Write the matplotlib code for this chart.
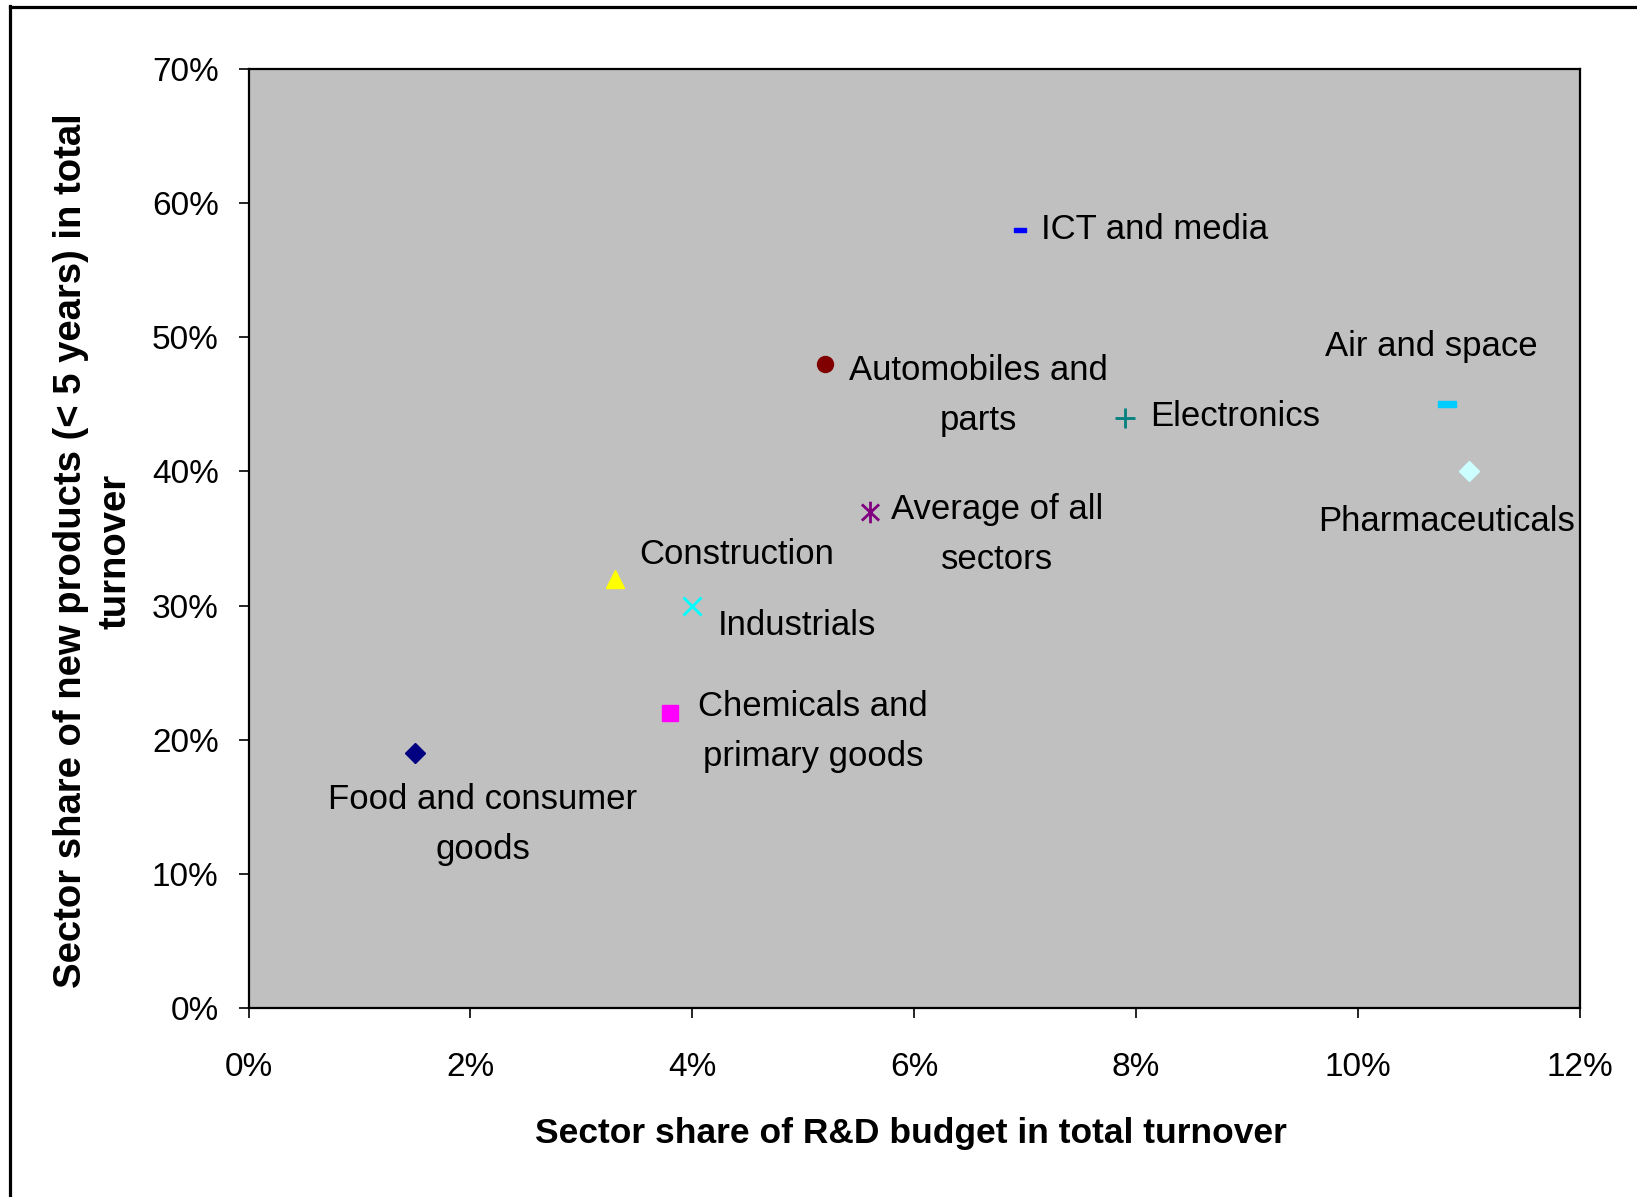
import matplotlib
matplotlib.use("Agg")
import matplotlib.pyplot as plt
from matplotlib.path import Path
from matplotlib.lines import Line2D
from matplotlib.ticker import FuncFormatter

plt.rcParams['font.family'] = ['Liberation Sans', 'DejaVu Sans']

# ---- data ----
sectors = ["Food and consumer\ngoods", "Chemicals and\nprimary goods", "Construction",
           "Industrials", "Automobiles and\nparts", "Average of all\nsectors",
           "ICT and media", "Electronics", "Air and space", "Pharmaceuticals"]
rd_share = [0.015, 0.038, 0.033, 0.040, 0.052, 0.056, 0.0695, 0.079, 0.108, 0.110]
new_prod_share = [0.19, 0.22, 0.32, 0.30, 0.48, 0.37, 0.58, 0.44, 0.45, 0.40]
x_ticks = [0, 0.02, 0.04, 0.06, 0.08, 0.10, 0.12]
y_ticks = [0, 0.1, 0.2, 0.3, 0.4, 0.5, 0.6, 0.7]

# ---- styles ----
def rect_marker(w, h):
    return Path([(-w, -h), (w, -h), (w, h), (-w, h), (-w, -h)],
                [Path.MOVETO, Path.LINETO, Path.LINETO, Path.LINETO, Path.CLOSEPOLY])

asterisk = Path([(0, -1), (0, 1), (-0.8, -0.75), (0.8, 0.75), (-0.8, 0.75), (0.8, -0.75)],
                [Path.MOVETO, Path.LINETO, Path.MOVETO, Path.LINETO, Path.MOVETO, Path.LINETO])

styles = [
    dict(marker='D', ms=9.7, color='#000080'),
    dict(marker='s', ms=11, color='#FF00FF'),
    dict(marker='^', ms=13, color='#FFFF00'),
    dict(marker='x', ms=12.5, color='#00FFFF', mew=2),
    dict(marker='o', ms=11.5, color='#800000'),
    dict(marker=asterisk, ms=15.5, color='#800080', mew=2),
    dict(marker=rect_marker(1, 0.36), ms=8, color='#0000FF'),
    dict(marker='+', ms=14, color='#008080', mew=2),
    dict(marker=rect_marker(1, 0.3), ms=13.5, color='#00CCFF'),
    dict(marker='D', ms=9.7, color='#CCFFFF'),
]
# label offsets in pixels (center of text block relative to marker)
offsets = [(68, -71, 'center'), (143, -19, 'center'), (122, 24, 'center'),
           (105, -20, 'center'), (153, -31, 'center'), (127, -23, 'center'),
           (21, 0, 'left'), (25, 1, 'left'), (-16, 58, 'center'), (-22, -50, 'center')]

W, H = 1637, 1197
fig = plt.figure(figsize=(W / 100, H / 100), dpi=100)
ax = fig.add_axes([248.5 / W, 1 - 1008 / H, (1580 - 248.5) / W, (1008 - 69) / H])
ax.set_facecolor('#C0C0C0')

for x, y, lab, st, off in zip(rd_share, new_prod_share, sectors, styles, offsets):
    ax.plot([x], [y], linestyle='none', marker=st['marker'], markersize=st['ms'],
            color=st['color'], markeredgecolor=st['color'],
            markeredgewidth=st.get('mew', 1))
    ax.annotate(lab, (x, y), xytext=(off[0], off[1]), textcoords='offset pixels',
                ha=off[2], va='center', multialignment='center', fontsize=25,
                linespacing=1.66, color='black')

ax.set_xlim(0, 0.12)
ax.set_ylim(0, 0.7)
ax.set_xticks(x_ticks)
ax.set_yticks(y_ticks)
ax.xaxis.set_major_formatter(FuncFormatter(lambda v, p: f"{v * 100:.0f}%"))
ax.yaxis.set_major_formatter(FuncFormatter(lambda v, p: f"{v * 100:.0f}%"))
ax.tick_params(axis='both', direction='out', length=7.5, width=1.2, labelsize=24,
               color='black')
ax.tick_params(axis='x', pad=24)
ax.tick_params(axis='y', pad=14)
for sp in ax.spines.values():
    sp.set_linewidth(1.6)
    sp.set_color('black')

fig.text(873 * 1.044 / W, 1 - 1134 / H, "Sector share of R&D budget in total turnover",
         ha='center', va='center', fontsize=25.5, fontweight='bold')
fig.text(93 / W, 1 - 551 / H, "Sector share of new products (< 5 years) in total\nturnover",
         ha='center', va='center', rotation=90, multialignment='center',
         fontsize=27.5, fontweight='bold', linespacing=1.32)

# outer frame (left and top lines)
fig.add_artist(Line2D([9.5 / W, 9.5 / W], [0, 1 - 6 / H], transform=fig.transFigure,
                      color='black', linewidth=2.3))
fig.add_artist(Line2D([9.5 / W, 1], [1 - 7 / H, 1 - 7 / H], transform=fig.transFigure,
                      color='black', linewidth=2.3))

fig.savefig("out.png", dpi=100, facecolor='white')
